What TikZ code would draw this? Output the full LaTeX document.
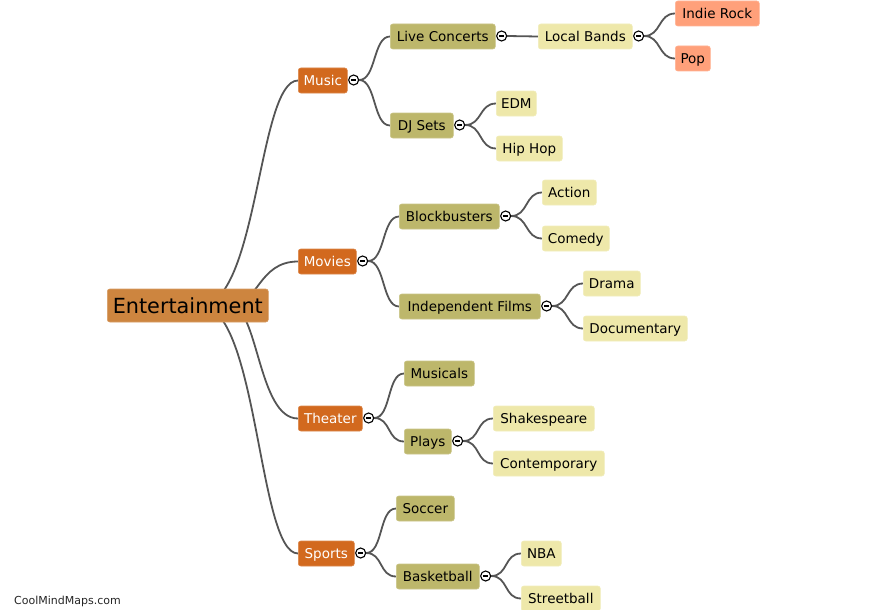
\documentclass[tikz,border=0pt]{standalone}
\usepackage{fontspec}
\setmainfont{DejaVu Sans}
\pgfdeclarelayer{background}
\pgfsetlayers{background,main}
\definecolor{rootc}{HTML}{CD853F}
\definecolor{lvone}{HTML}{D2691E}
\definecolor{lvtwo}{HTML}{BDB76B}
\definecolor{lvthree}{HTML}{EEE8AA}
\definecolor{lvfour}{HTML}{FFA07A}
\definecolor{linec}{HTML}{555555}
\tikzset{
  box/.style={anchor=west, rounded corners=2.5pt, inner xsep=0pt, inner ysep=0pt,
    minimum height=25pt, font=\fontsize{13.5}{15}\selectfont, text height=10.5pt, text depth=0pt},
  rootbox/.style={box, fill=rootc, draw=rootc!80!white, line width=0.6pt, minimum height=33pt,
    font=\fontsize{20.8}{24}\selectfont, text height=15.5pt, text depth=0pt},
  one/.style={box, fill=lvone, draw=lvone!80!white, line width=0.6pt, text=white},
  two/.style={box, fill=lvtwo, draw=lvtwo!80!white, line width=0.6pt},
  three/.style={box, fill=lvthree, draw=lvthree!80!white, line width=0.6pt},
  four/.style={box, fill=lvfour, draw=lvfour!80!white, line width=0.6pt},
  coll/.style={circle, draw=black, fill=white, line width=1.1pt, minimum size=10pt, inner sep=0pt, anchor=west,
    path picture={\draw[line width=1.2pt] ([xshift=2.3pt]path picture bounding box.west) -- ([xshift=-2.3pt]path picture bounding box.east);}},
  conn/.style={draw=linec, line width=1.8pt},
}
\begin{document}
\begin{tikzpicture}[x=1pt,y=-1pt]
\useasboundingbox (0,0) rectangle (878,610);
% root
\node[rootbox, minimum width=161pt] (root) at (107,305.5) {Entertainment};
% level 1
\node[one, minimum width=49pt] (music) at (298,80.5) {Music};
\node[one, minimum width=58pt] (movies) at (298,261.5) {Movies};
\node[one, minimum width=64pt] (theater) at (298,418.5) {Theater};
\node[one, minimum width=56pt] (sports) at (298,553.5) {Sports};
% level 2
\node[two, minimum width=105pt] (live) at (390,36.5) {Live Concerts};
\node[two, minimum width=63pt] (djsets) at (390,125.5) {DJ Sets};
\node[two, minimum width=100pt] (block) at (399,216.5) {Blockbusters};
\node[two, minimum width=141pt] (indep) at (399,306.5) {Independent Films};
\node[two, minimum width=70pt] (musicals) at (404,373.5) {Musicals};
\node[two, minimum width=47pt] (plays) at (404,441.5) {Plays};
\node[two, minimum width=58pt] (soccer) at (396,508.5) {Soccer};
\node[two, minimum width=83pt] (basket) at (396,576.5) {Basketball};
% level 3
\node[three, minimum width=94pt] (local) at (538,36.5) {Local Bands};
\node[three, minimum width=40pt] (edm) at (496,103.5) {EDM};
\node[three, minimum width=66pt] (hiphop) at (496,148.5) {Hip Hop};
\node[three, minimum width=54pt] (action) at (542,192.5) {Action};
\node[three, minimum width=67pt] (comedy) at (542,238.5) {Comedy};
\node[three, minimum width=57pt] (drama) at (583,283.5) {Drama};
\node[three, minimum width=104pt] (docu) at (583,328.5) {Documentary};
\node[three, minimum width=101pt] (shakes) at (493,418.5) {Shakespeare};
\node[three, minimum width=111pt] (contemp) at (493,463.5) {Contemporary};
\node[three, minimum width=40pt] (nba) at (521,553.5) {NBA};
\node[three, minimum width=79pt] (street) at (521,598.5) {Streetball};
% level 4
\node[four, minimum width=84pt] (indie) at (675,13.5) {Indie Rock};
\node[four, minimum width=35pt] (pop) at (675,58.5) {Pop};
% collapse circles
\node[coll] (musicC) at ([xshift=0.5pt,yshift=0.5pt]music.east) {};
\node[coll] (moviesC) at ([xshift=0.5pt,yshift=0.5pt]movies.east) {};
\node[coll] (theaterC) at ([xshift=0.5pt,yshift=0.5pt]theater.east) {};
\node[coll] (sportsC) at ([xshift=0.5pt,yshift=0.5pt]sports.east) {};
\node[coll] (liveC) at ([xshift=0.5pt,yshift=0.5pt]live.east) {};
\node[coll] (djsetsC) at ([xshift=0.5pt,yshift=0.5pt]djsets.east) {};
\node[coll] (blockC) at ([xshift=0.5pt,yshift=0.5pt]block.east) {};
\node[coll] (indepC) at ([xshift=0.5pt,yshift=0.5pt]indep.east) {};
\node[coll] (playsC) at ([xshift=0.5pt,yshift=0.5pt]plays.east) {};
\node[coll] (basketC) at ([xshift=0.5pt,yshift=0.5pt]basket.east) {};
\node[coll] (localC) at ([xshift=0.5pt,yshift=0.5pt]local.east) {};
% watermark
\node[anchor=base west, inner sep=0pt, font=\fontsize{11}{13}\selectfont, text=black!85] (wm) at (14,604) {CoolMindMaps.com};
% connectors
\begin{pgfonlayer}{background}
\draw[conn] ([xshift=12.5pt]root.center) .. controls +(58,0) and +(-40,0) .. (music.west);
\draw[conn] ([xshift=42.5pt]root.center) .. controls +(28,0) and +(-40,0) .. (movies.west);
\draw[conn] ([xshift=42.5pt]root.center) .. controls +(28,0) and +(-40,0) .. (theater.west);
\draw[conn] ([xshift=12.5pt]root.center) .. controls +(58,0) and +(-40,0) .. (sports.west);
\draw[conn] (musicC.east) .. controls +(17,0) and +(-17,0) .. (live.west);
\draw[conn] (musicC.east) .. controls +(17,0) and +(-17,0) .. (djsets.west);
\draw[conn] (liveC.east) -- (local.west);
\draw[conn] (localC.east) .. controls +(17,0) and +(-17,0) .. (indie.west);
\draw[conn] (localC.east) .. controls +(17,0) and +(-17,0) .. (pop.west);
\draw[conn] (djsetsC.east) .. controls +(17,0) and +(-17,0) .. (edm.west);
\draw[conn] (djsetsC.east) .. controls +(17,0) and +(-17,0) .. (hiphop.west);
\draw[conn] (moviesC.east) .. controls +(17,0) and +(-17,0) .. (block.west);
\draw[conn] (moviesC.east) .. controls +(17,0) and +(-17,0) .. (indep.west);
\draw[conn] (blockC.east) .. controls +(17,0) and +(-17,0) .. (action.west);
\draw[conn] (blockC.east) .. controls +(17,0) and +(-17,0) .. (comedy.west);
\draw[conn] (indepC.east) .. controls +(17,0) and +(-17,0) .. (drama.west);
\draw[conn] (indepC.east) .. controls +(17,0) and +(-17,0) .. (docu.west);
\draw[conn] (theaterC.east) .. controls +(17,0) and +(-17,0) .. (musicals.west);
\draw[conn] (theaterC.east) .. controls +(17,0) and +(-17,0) .. (plays.west);
\draw[conn] (playsC.east) .. controls +(17,0) and +(-17,0) .. (shakes.west);
\draw[conn] (playsC.east) .. controls +(17,0) and +(-17,0) .. (contemp.west);
\draw[conn] (sportsC.east) .. controls +(17,0) and +(-17,0) .. (soccer.west);
\draw[conn] (sportsC.east) .. controls +(17,0) and +(-17,0) .. (basket.west);
\draw[conn] (basketC.east) .. controls +(17,0) and +(-17,0) .. (nba.west);
\draw[conn] (basketC.east) .. controls +(17,0) and +(-17,0) .. (street.west);
\end{pgfonlayer}
\end{tikzpicture}
\end{document}
